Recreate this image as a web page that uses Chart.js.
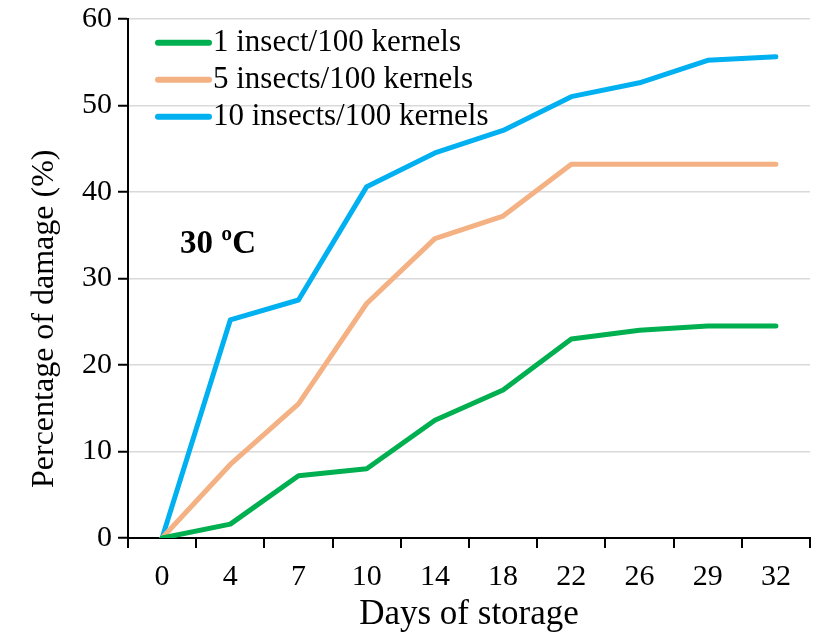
<!DOCTYPE html>
<html>
<head>
<meta charset="utf-8">
<script src="https://cdn.jsdelivr.net/npm/chart.js@4"></script>
<style>
  body { margin: 0; background: #fff; }
  #wrap { width: 813px; height: 638px; }
</style>
</head>
<body>
<div id="wrap"><canvas id="container"></canvas></div>
<script>
const DAYS = ["0", "4", "7", "10", "14", "18", "22", "26", "29", "32"];

const ONE_INSECT = [0, 1.6, 7.2, 8.0, 13.6, 17.1, 23.0, 24.0, 24.5, 24.5];
const FIVE_INSECTS = [0, 8.5, 15.5, 27.1, 34.6, 37.2, 43.2, 43.2, 43.2, 43.2];
const TEN_INSECTS = [0, 25.2, 27.5, 40.6, 44.5, 47.1, 51.0, 52.6, 55.2, 55.6];

const LABELS = ["1 insect/100 kernels", "5 insects/100 kernels", "10 insects/100 kernels"];
const COLORS = ["#00b050", "#f4b183", "#00b0f0"];

const FONT = "'Liberation Serif', 'Times New Roman', serif";

// legend, y title and the temperature note drawn on the canvas
const extras = {
  id: "extras",
  afterDraw(chart) {
    const ctx = chart.ctx;
    const area = chart.chartArea;
    ctx.save();

    ctx.font = "31px " + FONT;
    ctx.textBaseline = "middle";
    ctx.textAlign = "left";
    chart.data.datasets.forEach((ds, i) => {
      const y = area.top + 24 + i * 37;
      ctx.strokeStyle = ds.borderColor;
      ctx.lineWidth = 6;
      ctx.lineCap = "round";
      ctx.beginPath();
      ctx.moveTo(area.left + 30, y);
      ctx.lineTo(area.left + 81, y);
      ctx.stroke();
      ctx.fillStyle = "#000";
      ctx.fillText(ds.label, area.left + 85, y);
    });

    ctx.font = "bold 33px " + FONT;
    ctx.fillText("30 ºC", area.left + 52, area.top + 226);

    ctx.font = "32px " + FONT;
    ctx.textAlign = "center";
    ctx.translate(45, area.top + 300);
    ctx.rotate(-Math.PI / 2);
    ctx.fillText("Percentage of damage (%)", 0, 0);
    ctx.restore();
  },
};

function make_dataset(label, values, color) {
  return {
    label: label,
    data: values,
    borderColor: color,
    backgroundColor: color,
    borderWidth: 5,
    borderCapStyle: "round",
    borderJoinStyle: "round",
    pointRadius: 0,
    tension: 0,
  };
}

new Chart(document.getElementById("container"), {
  type: "line",
  data: {
    labels: DAYS,
    datasets: [
      make_dataset(LABELS[0], ONE_INSECT, COLORS[0]),
      make_dataset(LABELS[1], FIVE_INSECTS, COLORS[1]),
      make_dataset(LABELS[2], TEN_INSECTS, COLORS[2]),
    ],
  },
  options: {
    responsive: true,
    maintainAspectRatio: false,
    animation: false,
    layout: { padding: { top: 0, right: 3, left: 0, bottom: 0 } },
    plugins: { legend: { display: false }, tooltip: { enabled: false } },
    scales: {
      x: {
        offset: true,
        grid: {
          offset: true,
          drawOnChartArea: false,
          color: "#000",
          lineWidth: 2,
          tickLength: 10,
        },
        border: { color: "#000", width: 2 },
        ticks: { color: "#000", font: { family: FONT, size: 30 }, padding: 11, maxRotation: 0 },
        title: {
          display: true,
          text: "Days of storage",
          color: "#000",
          font: { family: FONT, size: 35 },
          padding: { top: 0, bottom: 2 },
        },
        afterFit: (scale) => { scale.height = 100; },
      },
      y: {
        min: 0,
        max: 60,
        ticks: { stepSize: 10, color: "#000", font: { family: FONT, size: 30, lineHeight: 0.85 }, padding: 6 },
        grid: {
          color: "#d9d9d9",
          lineWidth: 1.5,
          tickColor: "#000",
          tickWidth: 2,
          tickLength: 10,
        },
        border: { color: "#000", width: 2 },
        afterFit: (scale) => { scale.width = 128; },
      },
    },
  },
  plugins: [extras],
});
</script>
</body>
</html>
